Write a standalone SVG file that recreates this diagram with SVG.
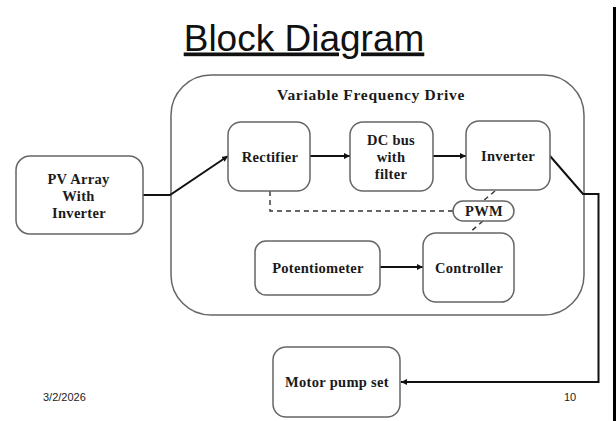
<svg xmlns="http://www.w3.org/2000/svg" width="616" height="421" viewBox="0 0 616 421">
<style>
.box{fill:#fff;stroke:#666;stroke-width:1.5}
.lbl{font-family:"Liberation Serif",serif;font-weight:bold;font-size:14.500px;fill:#1a1a1a;text-anchor:middle;letter-spacing:.3px}
.conn{fill:none;stroke:#111;stroke-width:2}
.dash{fill:none;stroke:#333;stroke-width:1.4;stroke-dasharray:5 4}
.foot{font-family:"Liberation Sans",sans-serif;font-size:11px;fill:#222}
</style>
<defs>
<marker id="a" markerUnits="userSpaceOnUse" markerWidth="7" markerHeight="6" refX="6" refY="3" orient="auto"><path d="M0 0L6 3L0 6z" fill="#111"/></marker>
</defs>
<rect width="616" height="421" fill="#fff"/>
<rect x="613" y="7" width="3" height="414" fill="#000"/>
<text x="304" y="50.500" font-family="'Liberation Sans',sans-serif" font-size="37" fill="#111" text-anchor="middle" text-decoration="underline">Block Diagram</text>
<g id="vfd"><rect class="box" x="171" y="75" width="413" height="240" rx="40"/>
<text class="lbl" x="371" y="100" style="font-size:15.500px;letter-spacing:.7px">Variable Frequency Drive</text></g>
<g id="connectors">
<path class="conn" marker-end="url(#a)" d="M143 195H170L228 156"/>
<path class="conn" marker-end="url(#a)" d="M310 156H350"/>
<path class="conn" marker-end="url(#a)" d="M433 156H466"/>
<path class="conn" marker-end="url(#a)" d="M550 156L583 194H598.500V382H401"/>
<path class="conn" marker-end="url(#a)" d="M380 267H423"/>
<path class="dash" d="M270 191V211H453"/>
<path class="dash" d="M495 191L483 201"/>
<path class="dash" d="M483 221L469 233"/>
</g>
<g id="pv"><rect class="box" x="16" y="156" width="127" height="78" rx="14"/>
<text class="lbl" x="78.500" y="184">PV Array</text><text class="lbl" x="78.500" y="201">With</text><text class="lbl" x="79" y="218">Inverter</text></g>
<g id="rectifier"><rect class="box" x="228" y="122" width="82" height="69" rx="13"/><text class="lbl" x="270" y="162">Rectifier</text></g>
<g id="dcbus"><rect class="box" x="350" y="122" width="83" height="69" rx="13"/>
<text class="lbl" x="391" y="145">DC bus</text><text class="lbl" x="391" y="162">with</text><text class="lbl" x="391" y="179">filter</text></g>
<g id="inverter"><rect class="box" x="466" y="121" width="84" height="69" rx="13"/><text class="lbl" x="508" y="161">Inverter</text></g>
<g id="pwm"><rect class="box" x="453" y="201" width="61" height="20" rx="10"/><text class="lbl" x="484" y="216">PWM</text></g>
<g id="potentiometer"><rect class="box" x="255" y="241" width="125" height="54" rx="11"/><text class="lbl" x="318" y="273">Potentiometer</text></g>
<g id="controller"><rect class="box" x="423" y="233" width="91" height="69" rx="13"/><text class="lbl" x="469" y="273">Controller</text></g>
<g id="motor"><rect class="box" x="273" y="347" width="127" height="70" rx="13"/><text class="lbl" x="337" y="387">Motor pump set</text></g>
<text class="foot" x="43" y="401">3/2/2026</text>
<text class="foot" x="564" y="401">10</text>
</svg>
